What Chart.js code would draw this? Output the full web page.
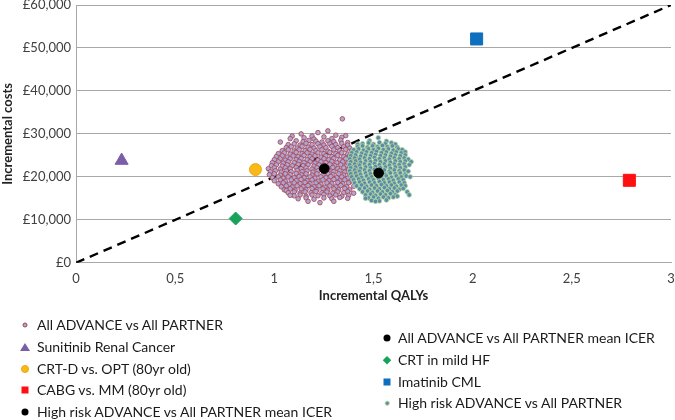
<!DOCTYPE html>
<html><head><meta charset="utf-8">
<script src="https://cdn.jsdelivr.net/npm/chart.js@4.4.1/dist/chart.umd.min.js"></script>
<style>
html,body{margin:0;padding:0;background:#fff;}
#wrap{position:relative;width:675px;height:420px;overflow:hidden;font-family:Lato,"Open Sans",sans-serif;}
canvas{position:absolute;left:0;top:0;}
.li{position:absolute;height:20px;line-height:20px;font-size:14px;color:#1a1a1a;white-space:nowrap;transform:translateY(-50%);}
.mk{position:absolute;transform:translate(-50%,-50%);}
</style></head>
<body><div id="wrap"><canvas id="c" width="675" height="420"></canvas><div id="legend"></div></div>
<script>
// ---------- data ----------
const xTickLabels = ['0','0,5','1','1,5','2','2,5','3'];
const yTickLabels = ['£0','£10,000','£20,000','£30,000','£40,000','£50,000','£60,000'];
const seriesNames = [
  'All ADVANCE vs All PARTNER',
  'Sunitinib Renal Cancer',
  'CRT-D vs. OPT (80yr old)',
  'CABG vs. MM (80yr old)',
  'High risk ADVANCE vs All PARTNER mean ICER',
  'All ADVANCE vs All PARTNER mean ICER',
  'CRT in mild HF',
  'Imatinib CML',
  'High risk ADVANCE vs All PARTNER'
];
// [incremental QALYs, incremental cost £]
const sunitinib = [0.23, 23800];
const crtdOpt = [0.905, 21700];
const cabgMM = [2.79, 19200];
const highRiskMean = [1.526, 20900];
const allMean = [1.252, 21900];
const crtMildHF = [0.805, 10300];
const imatinib = [2.02, 52100];
const thresholdQALY = [0, 3];
const thresholdCost = [0, 60000];

const allAdvanceSim = [
[1.343,33500],[1.135,30000],[1.22,30300],[1.27,30700],[1.31,29700],[1.19,29500],[1.36,29600],[1.09,29500],
[1.08,28900],[1.15,29100],[1.20,28800],[1.25,29300],[1.29,28900],[1.34,29200],
[1.03,28100],[1.11,28400],[1.145,28200],[1.175,28500],[1.21,28300],[1.24,28100],[1.27,28400],[1.30,28200],[1.335,28500],[1.37,28000],
[1.07,27500],[1.10,27700],[1.13,27400],[1.16,27800],[1.19,27500],[1.22,27700],[1.25,27400],[1.28,27700],[1.31,27500],[1.34,27800],[1.37,27400],
[1.06,26800],[1.085,27000],[1.115,26700],[1.14,27100],[1.17,26900],[1.20,26700],[1.23,27000],[1.26,26800],[1.29,27100],[1.32,26800],[1.35,27000],[1.38,26700],
[1.04,26100],[1.07,26300],[1.10,26000],[1.125,26300],[1.155,26100],[1.18,26400],[1.21,26100],[1.24,26300],[1.27,26000],[1.30,26300],[1.33,26100],[1.36,26400],[1.39,26100],
[1.02,25400],[1.05,25600],[1.08,25300],[1.11,25700],[1.14,25400],[1.165,25600],[1.19,25300],[1.22,25600],[1.25,25400],[1.28,25700],[1.31,25400],[1.34,25600],[1.37,25300],[1.40,25600],
[1.01,24700],[1.04,24900],[1.065,24600],[1.095,24900],[1.12,24700],[1.15,25000],[1.18,24700],[1.205,24900],[1.235,24600],[1.26,24900],[1.29,24700],[1.32,25000],[1.35,24700],[1.38,24900],[1.41,24600],
[1.00,24000],[1.03,24200],[1.055,23900],[1.08,24200],[1.11,24000],[1.135,24300],[1.165,24000],[1.19,24200],[1.22,23900],[1.25,24200],[1.275,24000],[1.30,24300],[1.33,24000],[1.36,24200],[1.39,23900],[1.42,24100],
[0.99,23300],[1.02,23500],[1.045,23200],[1.07,23500],[1.10,23300],[1.125,23600],[1.15,23300],[1.18,23500],[1.205,23200],[1.235,23500],[1.26,23300],[1.29,23600],[1.315,23300],[1.345,23500],[1.37,23200],[1.40,23500],[1.43,23300],
[0.985,22600],[1.01,22800],[1.04,22500],[1.065,22800],[1.09,22600],[1.12,22900],[1.145,22600],[1.17,22800],[1.20,22500],[1.225,22800],[1.255,22600],[1.28,22900],[1.305,22600],[1.335,22800],[1.36,22500],[1.39,22800],[1.415,22600],
[0.97,21900],[1.00,22100],[1.03,21800],[1.055,22100],[1.08,21900],[1.11,22200],[1.135,21900],[1.16,22100],[1.19,21800],[1.215,22100],[1.27,21900],[1.295,22200],[1.32,21900],[1.35,22100],[1.375,21800],[1.40,22100],[1.43,21900],
[0.98,21200],[1.005,21400],[1.035,21100],[1.06,21400],[1.085,21200],[1.115,21500],[1.14,21200],[1.165,21400],[1.195,21100],[1.22,21400],[1.25,21200],[1.275,21500],[1.30,21200],[1.33,21400],[1.355,21100],[1.385,21400],[1.41,21200],
[0.975,20500],[1.00,20700],[1.03,20400],[1.055,20700],[1.08,20500],[1.11,20800],[1.135,20500],[1.16,20700],[1.19,20400],[1.215,20700],[1.245,20500],[1.27,20800],[1.295,20500],[1.325,20700],[1.35,20400],[1.38,20700],[1.405,20500],
[0.99,19800],[1.02,20000],[1.045,19700],[1.07,20000],[1.10,19800],[1.125,20100],[1.15,19800],[1.18,20000],[1.205,19700],[1.235,20000],[1.26,19800],[1.285,20100],[1.315,19800],[1.34,20000],[1.37,19700],[1.395,20000],
[1.00,19100],[1.03,19300],[1.055,19000],[1.085,19300],[1.11,19100],[1.135,19400],[1.165,19100],[1.19,19300],[1.22,19000],[1.245,19300],[1.275,19100],[1.30,19400],[1.33,19100],[1.355,19300],[1.385,19000],
[1.02,18400],[1.045,18600],[1.075,18300],[1.10,18600],[1.13,18400],[1.155,18700],[1.18,18400],[1.21,18600],[1.235,18300],[1.265,18600],[1.29,18400],[1.32,18700],[1.345,18400],[1.375,18600],
[1.035,17700],[1.06,17900],[1.09,17600],[1.115,17900],[1.145,17700],[1.17,18000],[1.20,17700],[1.225,17900],[1.255,17600],[1.28,17900],[1.31,17700],[1.335,18000],[1.365,17700],[1.40,17800],
[1.05,17000],[1.08,17200],[1.105,16900],[1.135,17200],[1.16,17000],[1.19,17300],[1.215,17000],[1.245,17200],[1.27,16900],[1.30,17200],[1.325,17000],[1.355,17300],[1.38,17000],[1.06,16800],
[1.07,16300],[1.10,16500],[1.13,16200],[1.155,16500],[1.185,16300],[1.21,16600],[1.24,16300],[1.265,16500],[1.295,16200],[1.32,16500],[1.35,16300],[1.37,16600],[1.40,16200],
[1.10,15600],[1.13,15800],[1.16,15500],[1.19,15800],[1.22,15600],[1.25,15900],[1.28,15600],[1.31,15800],[1.34,15500],[1.375,15700],[1.08,15700],
[1.12,14900],[1.16,15100],[1.20,14800],[1.25,15100],[1.29,14900],[1.33,15200],[1.37,15000],
[1.23,14000],[1.17,14300],[1.30,14300]
];

const highRiskSim = [
[1.524,29100],[1.48,28400],[1.565,28300],[1.42,27600],[1.61,27600],
[1.445,27700],[1.475,27900],[1.50,27600],[1.53,28000],[1.56,27700],[1.59,27900],
[1.42,27000],[1.445,27200],[1.47,26900],[1.495,27200],[1.52,27000],[1.545,27300],[1.57,27000],[1.595,27200],[1.62,26900],
[1.40,26300],[1.425,26500],[1.45,26200],[1.475,26500],[1.50,26300],[1.525,26600],[1.55,26300],[1.575,26500],[1.60,26200],[1.625,26500],[1.645,26300],
[1.39,25600],[1.415,25800],[1.44,25500],[1.465,25800],[1.49,25600],[1.515,25900],[1.54,25600],[1.565,25800],[1.59,25500],[1.615,25800],[1.64,25600],[1.66,25800],
[1.385,24900],[1.41,25100],[1.435,24800],[1.46,25100],[1.485,24900],[1.51,25200],[1.535,24900],[1.56,25100],[1.585,24800],[1.61,25100],[1.635,24900],[1.66,25100],
[1.38,24200],[1.405,24400],[1.43,24100],[1.455,24400],[1.48,24200],[1.505,24500],[1.53,24200],[1.555,24400],[1.58,24100],[1.605,24400],[1.63,24200],[1.655,24400],[1.675,24100],
[1.385,23500],[1.41,23700],[1.435,23400],[1.46,23700],[1.485,23500],[1.51,23800],[1.535,23500],[1.56,23700],[1.585,23400],[1.61,23700],[1.635,23500],[1.66,23700],[1.69,23500],
[1.38,22800],[1.405,23000],[1.43,22700],[1.455,23000],[1.48,22800],[1.505,23100],[1.53,22800],[1.555,23000],[1.58,22700],[1.605,23000],[1.63,22800],[1.655,23000],[1.68,22800],
[1.385,22100],[1.41,22300],[1.435,22000],[1.46,22300],[1.485,22100],[1.51,22400],[1.535,22100],[1.56,22300],[1.585,22000],[1.61,22300],[1.635,22100],[1.66,22300],
[1.38,21400],[1.405,21600],[1.43,21300],[1.455,21600],[1.48,21400],[1.505,21700],[1.53,21400],[1.555,21600],[1.58,21300],[1.605,21600],[1.63,21400],[1.655,21600],[1.675,21300],
[1.385,20700],[1.41,20900],[1.435,20600],[1.46,20900],[1.485,20700],[1.51,20800],[1.54,21000],[1.56,20600],[1.585,20900],[1.61,20700],[1.635,20900],[1.66,20600],
[1.39,20000],[1.415,20200],[1.44,19900],[1.465,20200],[1.49,20000],[1.515,20300],[1.54,20000],[1.565,20200],[1.59,19900],[1.615,20200],[1.64,20000],[1.665,20200],[1.685,20000],
[1.40,19300],[1.425,19500],[1.45,19200],[1.475,19500],[1.50,19300],[1.525,19600],[1.55,19300],[1.575,19500],[1.60,19200],[1.625,19500],[1.65,19300],
[1.405,18600],[1.43,18800],[1.455,18500],[1.48,18800],[1.505,18600],[1.53,18900],[1.555,18600],[1.58,18800],[1.605,18500],[1.63,18800],[1.655,18600],
[1.415,17900],[1.44,18100],[1.465,17800],[1.49,18100],[1.515,17900],[1.54,18200],[1.565,17900],[1.59,18100],[1.615,17800],[1.64,18100],[1.66,17900],
[1.43,17200],[1.455,17400],[1.48,17100],[1.505,17400],[1.53,17200],[1.555,17500],[1.58,17200],[1.605,17400],[1.63,17100],[1.65,17300],
[1.445,16500],[1.47,16700],[1.495,16400],[1.52,16700],[1.545,16500],[1.57,16800],[1.595,16500],[1.62,16700],[1.67,16500],
[1.46,15800],[1.485,16000],[1.51,15700],[1.535,16000],[1.56,15800],[1.585,16100],[1.61,15800],[1.68,15800],[1.62,15500],
[1.475,15100],[1.50,15300],[1.525,15000],[1.55,15300],[1.575,15100],[1.60,15300],[1.46,15000],
[1.49,14500],[1.53,14400],[1.565,14600],[1.51,14300]
];

// ---------- styles ----------
const FONT = 'Lato, "Open Sans", sans-serif';
const pinkFill = '#b0a6d3', pinkEdge = '#a3404e';
const tealFill = '#5a8cab', tealEdge = '#b3d69a';
const cSun = '#7b5ea7', cCrtd = '#fbb917', cCabg = '#ff1010', cBlack = '#000000',
      cCrt = '#19a25c', cIma = '#0f6fbf';

const pts = arr => arr.map(p => ({x: p[0], y: p[1]}));
const one = p => [{x: p[0], y: p[1]}];

const datasets = [
  {label: seriesNames[5], data: one(allMean), pointRadius: 4.8, backgroundColor: cBlack, borderColor: cBlack, order: 0},
  {label: seriesNames[4], data: one(highRiskMean), pointRadius: 4.8, backgroundColor: cBlack, borderColor: cBlack, order: 0},
  {label: seriesNames[1], data: one(sunitinib), pointStyle: 'triangle', pointRadius: 7.5, backgroundColor: cSun, borderColor: cSun, order: 1},
  {label: seriesNames[2], data: one(crtdOpt), pointRadius: 6, backgroundColor: cCrtd, borderColor: '#eaa710', borderWidth: 1, order: 1},
  {label: seriesNames[3], data: one(cabgMM), pointStyle: 'rect', pointRadius: 8.5, backgroundColor: cCabg, borderColor: cCabg, order: 1},
  {label: seriesNames[6], data: one(crtMildHF), pointStyle: 'rectRot', pointRadius: 6.5, backgroundColor: cCrt, borderColor: cCrt, order: 1},
  {label: seriesNames[7], data: one(imatinib), pointStyle: 'rect', pointRadius: 8.5, backgroundColor: cIma, borderColor: cIma, order: 1},
  {label: seriesNames[8], data: pts(highRiskSim), pointRadius: 2.3, borderWidth: 0.8, backgroundColor: tealFill, borderColor: tealEdge, order: 2},
  {label: seriesNames[0], data: pts(allAdvanceSim), pointRadius: 2.3, borderWidth: 0.8, backgroundColor: pinkFill, borderColor: pinkEdge, order: 3},
  {label: 'threshold', data: thresholdQALY.map((q, i) => ({x: q, y: thresholdCost[i]})), showLine: true,
   pointRadius: 0, borderColor: '#000', borderWidth: 2.4, borderDash: [9, 6], order: 4}
];

new Chart(document.getElementById('c'), {
  type: 'scatter',
  data: {datasets},
  options: {
    responsive: false, animation: false, devicePixelRatio: 1,
    layout: {autoPadding: false, padding: {left: 0, top: 5, right: 4, bottom: 116}},
    plugins: {legend: {display: false}, tooltip: {enabled: false}},
    scales: {
      x: {
        type: 'linear', min: 0, max: 3,
        ticks: {stepSize: 0.5, padding: 8, color: '#404040', font: {family: FONT, size: 13},
                callback: (v, i) => xTickLabels[i]},
        grid: {display: false, drawTicks: false},
        border: {display: true, color: '#a8a8a8'},
        title: {display: true, text: 'Incremental QALYs', color: '#222', padding: {top: -6, bottom: 0},
                font: {family: FONT, size: 13, weight: 'bold'}},
        afterFit: s => { s.paddingLeft = 0; s.paddingRight = 0; }
      },
      y: {
        type: 'linear', min: 0, max: 60000,
        ticks: {stepSize: 10000, padding: 5, color: '#404040', font: {family: FONT, size: 13},
                callback: (v, i) => yTickLabels[i]},
        grid: {color: '#a8a8a8', lineWidth: 1, drawTicks: false},
        border: {display: true, color: '#a8a8a8'},
        title: {display: true, text: 'Incremental costs', color: '#222', padding: 0,
                font: {family: FONT, size: 13, weight: 'bold'}},
        afterFit: s => { s.width = 76; s.paddingTop = 0; s.paddingBottom = 0; }
      }
    }
  }
});

// ---------- legend (HTML) ----------
const legendItems = [
  {name: seriesNames[0], col: 0, row: 0, mk: 'dot', c: pinkFill, e: pinkEdge, s: 5},
  {name: seriesNames[1], col: 0, row: 1, mk: 'tri', c: cSun, s: 10},
  {name: seriesNames[2], col: 0, row: 2, mk: 'dot', c: cCrtd, e: '#eaa710', s: 8},
  {name: seriesNames[3], col: 0, row: 3, mk: 'sq', c: cCabg, s: 7},
  {name: seriesNames[4], col: 0, row: 4, mk: 'dot', c: cBlack, s: 7},
  {name: seriesNames[5], col: 1, row: 0, mk: 'dot', c: cBlack, s: 7},
  {name: seriesNames[6], col: 1, row: 1, mk: 'dia', c: cCrt, s: 5.5},
  {name: seriesNames[7], col: 1, row: 2, mk: 'sq', c: cIma, s: 7},
  {name: seriesNames[8], col: 1, row: 3, mk: 'dot', c: tealFill, e: tealEdge, s: 4.5}
];
const colX = [{m: 25, t: 37}, {m: 387, t: 398}];
const colY0 = [325, 338];
const rowGap = 21.8;
const leg = document.getElementById('legend');
legendItems.forEach(it => {
  const cx = colX[it.col].m, cy = colY0[it.col] + it.row * rowGap;
  const m = document.createElement('div');
  m.className = 'mk';
  m.style.left = cx + 'px'; m.style.top = cy + 'px';
  if (it.mk === 'dot') {
    m.style.width = it.s + 'px'; m.style.height = it.s + 'px'; m.style.borderRadius = '50%';
    m.style.background = it.c; if (it.e) { m.style.boxSizing = 'border-box'; m.style.border = '0.8px solid ' + it.e; }
  } else if (it.mk === 'sq') {
    m.style.width = it.s + 'px'; m.style.height = it.s + 'px'; m.style.background = it.c;
  } else if (it.mk === 'dia') {
    m.style.width = it.s + 'px'; m.style.height = it.s + 'px'; m.style.background = it.c;
    m.style.transform = 'translate(-50%,-50%) rotate(45deg)';
  } else if (it.mk === 'tri') {
    m.style.width = '0'; m.style.height = '0';
    m.style.borderLeft = (it.s / 2) + 'px solid transparent';
    m.style.borderRight = (it.s / 2) + 'px solid transparent';
    m.style.borderBottom = (it.s * 0.85) + 'px solid ' + it.c;
  }
  leg.appendChild(m);
  const t = document.createElement('div');
  t.className = 'li';
  t.style.left = colX[it.col].t + 'px'; t.style.top = cy + 'px';
  t.textContent = it.name;
  leg.appendChild(t);
});
</script>
</body></html>
